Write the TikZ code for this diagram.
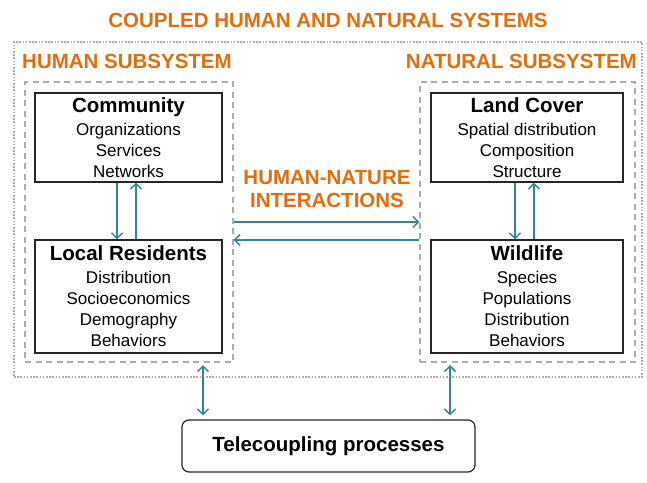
\documentclass[tikz,border=0pt]{standalone}
\usepackage{fontspec}
\setmainfont{Liberation Sans}
\usetikzlibrary{positioning,arrows.meta}

\definecolor{chnorange}{HTML}{E46C0A}
\definecolor{chnteal}{HTML}{31849B}
\definecolor{chngray}{HTML}{ADADAD}

\newcommand{\hdfont}{\fontsize{20.5}{23}\selectfont\bfseries}
\newcommand{\itfont}{\fontsize{17}{21}\selectfont}

\begin{document}
\begin{tikzpicture}[x=1pt,y=-1pt,
  title/.style={text=chnorange, font=\hdfont, inner sep=0pt},
  subsys/.style={draw=chngray, line width=1.2pt, dash pattern=on 6pt off 4.5pt},
  box/.style={draw=black!85, line width=1.2pt, align=center, font=\itfont, inner sep=0pt},
  arr/.style={draw=chnteal, line width=1.5pt, -{Straight Barb[length=5.5pt,width=11pt]}},
  darr/.style={draw=chnteal, line width=1.5pt, {Straight Barb[length=5.5pt,width=11pt]}-{Straight Barb[length=5.5pt,width=11pt]}}]
\useasboundingbox (0,0) rectangle (647,482);

\node[title] (t1) at (328,20) {COUPLED HUMAN AND NATURAL SYSTEMS};
\node[draw=chngray, line width=1.6pt, dash pattern=on 1.6pt off 1.6pt, minimum width=628pt, minimum height=335pt] (chns) at (328,209.5) {};

\node[title, anchor=west] (t2) at (22,61) {HUMAN SUBSYSTEM};
\node[title, anchor=east] (t3) at (637,61) {NATURAL SUBSYSTEM};

\node[subsys, minimum width=208pt, minimum height=280pt] (hs) at (129,222) {};
\node[subsys, minimum width=215pt, minimum height=280pt] (ns) at (527.5,222) {};

\node[box, minimum width=187pt, minimum height=89pt] (comm) at (128.5,137.5)
  {{\hdfont Community}\\[2pt] Organizations\\ Services\\ Networks};
\node[box, minimum width=187pt, minimum height=113pt] (res) at (128.5,296.5)
  {{\hdfont Local Residents}\\[2pt] Distribution\\ Socioeconomics\\ Demography\\ Behaviors};
\node[box, minimum width=192pt, minimum height=89pt] (land) at (527,137.5)
  {{\hdfont Land Cover}\\[2pt] Spatial distribution\\ Composition\\ Structure};
\node[box, minimum width=192pt, minimum height=113pt] (wild) at (527,296.5)
  {{\hdfont Wildlife}\\[2pt] Species\\ Populations\\ Distribution\\ Behaviors};

\node[title, align=center] (t4) at (327,189) {HUMAN-NATURE\\ INTERACTIONS};

\node[draw=black!85, line width=1.2pt, rounded corners=7pt, minimum width=293pt, minimum height=52pt, font=\hdfont] (tele) at (328.5,446) {Telecoupling processes};

\draw[arr] ([xshift=-11.5pt]comm.south) -- ([xshift=-11.5pt]res.north);
\draw[arr] ([xshift=7.5pt]res.north) -- ([xshift=7.5pt]comm.south);
\draw[arr] ([xshift=-12pt]land.south) -- ([xshift=-12pt]wild.north);
\draw[arr] ([xshift=7pt]wild.north) -- ([xshift=7pt]land.south);

\draw[arr] (hs.east) -- (ns.west);
\draw[arr] ([yshift=-18pt]ns.west) -- ([yshift=-18pt]hs.east);

\coordinate (v1) at (203,365);
\coordinate (v2) at (450,365);
\draw[darr, shorten >=4pt] (v1) -- (tele.north -| v1);
\draw[darr, shorten >=4pt] (v2) -- (tele.north -| v2);

\end{tikzpicture}
\end{document}
